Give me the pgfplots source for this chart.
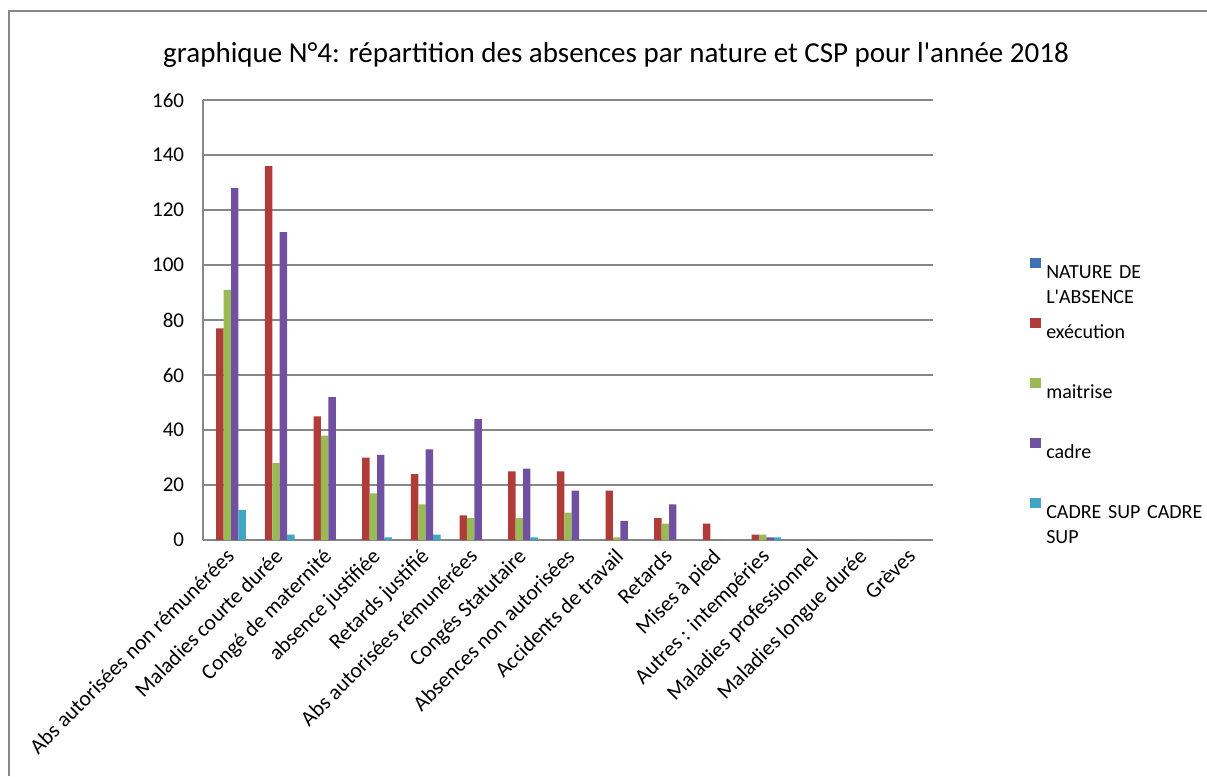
\documentclass[border=0pt]{standalone}
\usepackage{fontspec}
\setmainfont{Carlito}
\usepackage{pgfplots}
\usepackage{pgfplotstable}
\pgfplotsset{compat=1.18}
\definecolor{natc}{HTML}{3F72B0}
\definecolor{execc}{HTML}{B03C39}
\definecolor{maitc}{HTML}{9ABA55}
\definecolor{cadrec}{HTML}{7050A0}
\definecolor{csupc}{HTML}{3FA6C3}
\definecolor{gridc}{HTML}{878787}

\pgfplotstableread{
x nat exec mait cadre csup
0  0 77  91 128 11
1  0 136 28 112 2
2  0 45  38 52  0
3  0 30  17 31  1
4  0 24  13 33  2
5  0 9   8  44  0
6  0 25  8  26  1
7  0 25  10 18  0
8  0 18  1  7   0
9  0 8   6  13  0
10 0 6   0  0   0
11 0 2   2  1   1
12 0 0   0  0   0
13 0 0   0  0   0
14 0 0   0  0   0
}\data

\begin{document}
\begin{tikzpicture}[x=0.75pt,y=0.75pt]
\useasboundingbox (0,0) rectangle (1207,776);
\draw[color=gridc, line width=1.1pt] (9,0) -- (9,765) -- (1207,765);
\begin{axis}[
  at={(152.25pt,177pt)}, anchor=south west,
  scale only axis, width=547.5pt, height=330pt,
  xmin=-0.5, xmax=14.5, ymin=0, ymax=160,
  enlargelimits=false,
  ybar=0pt, bar width=5.55pt,
  axis x line*=bottom, axis y line*=left,
  x axis line style={-}, y axis line style={-},
  axis line style={draw=gridc, line width=1.3pt},
  ymajorgrids, grid style={draw=gridc, line width=1.3pt},
  major tick length=0pt,
  ytick={0,20,...,160},
  yticklabel style={font=\fontsize{15.75}{18}\selectfont, anchor=east, inner sep=0pt, xshift=-14pt},
  /pgf/number format/assume math mode=true,
  xtick={0,...,14},
  xticklabels={Abs autorisées non rémunérées, Maladies courte durée, Congé de maternité, absence justifiée, Retards justifié, Abs autorisées  rémunérées, Congés Statutaire, Absences non autorisées, Accidents de travail, Retards, Mises à pied, Autres : intempéries, Maladies professionnel, Maladies longue durée, Grèves},
  xticklabel style={font=\fontsize{16.25}{18}\selectfont, xshift=-2pt, yshift=-5.25pt, rotate=45, anchor=north east, inner sep=0pt},
  legend image code/.code={\fill[#1] (0pt,3pt) rectangle (8.25pt,10.5pt);},
  legend cell align=left,
  legend style={at={(1.1329,0.641)}, anchor=north west, draw=none, fill=none, inner sep=0pt, row sep=27pt, column sep=3.75pt,
    nodes={inner sep=0pt, font=\fontsize{15}{18.75}\selectfont, text height=12pt, text depth=3pt, text width=130pt, align=left}},
]
\addplot[fill=natc, draw=none] table[x=x, y=nat] {\data};
\addplot[fill=execc, draw=none] table[x=x, y=exec] {\data};
\addplot[fill=maitc, draw=none] table[x=x, y=mait] {\data};
\addplot[fill=cadrec, draw=none] table[x=x, y=cadre] {\data};
\addplot[fill=csupc, draw=none] table[x=x, y=csup] {\data};
\legend{NATURE DE\\L\textquotesingle ABSENCE, exécution, maitrise, cadre, CADRE SUP CADRE\\SUP}
\end{axis}
\node[anchor=base, font=\fontsize{21.75}{26}\selectfont] at (616,713) {graphique N°4: répartition des absences par nature et CSP pour l\textquotesingle année 2018};
\end{tikzpicture}
\end{document}
